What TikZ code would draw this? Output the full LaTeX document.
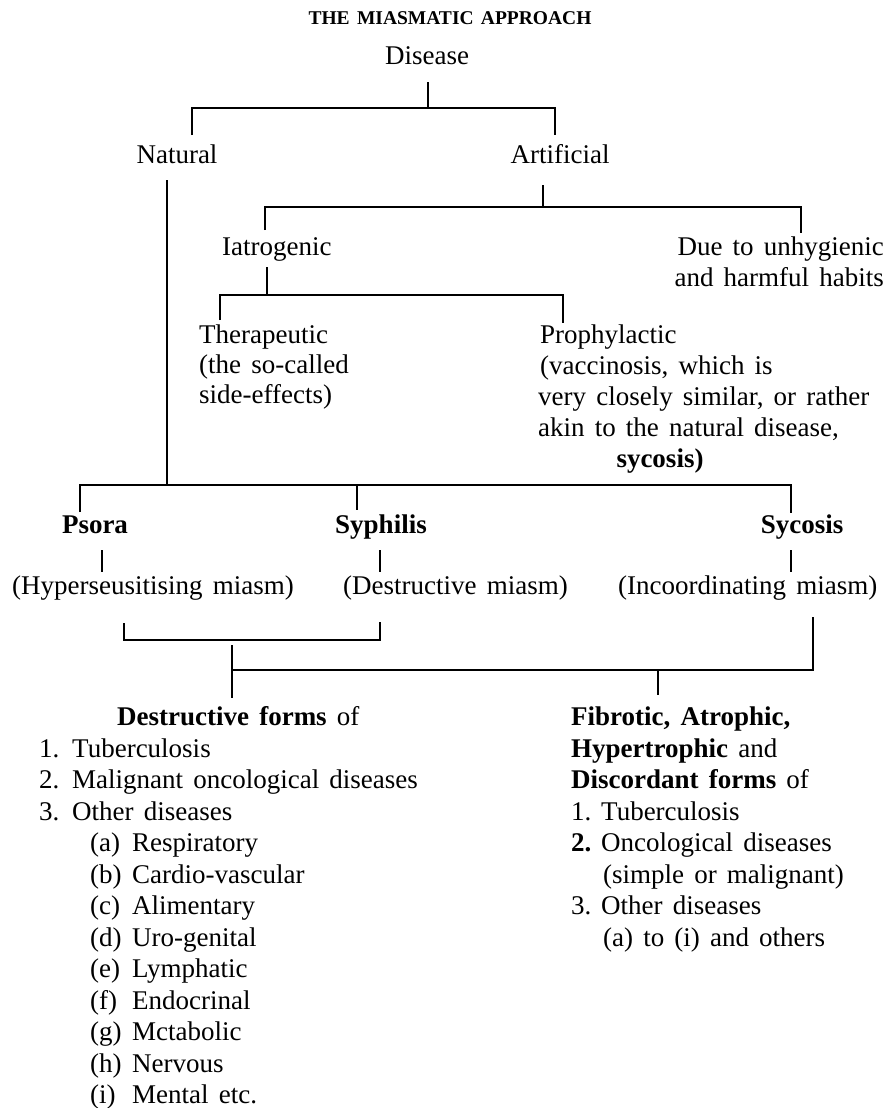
\documentclass[tikz,border=0pt]{standalone}
\usepackage{fontspec}
\setmainfont{Liberation Serif}[WordSpace=1.5]
\begin{document}
\begin{tikzpicture}[x=1pt,y=-1pt]
\tikzset{
  txt/.style={inner sep=0pt, font=\fontsize{27}{31.5}\selectfont, anchor=base west},
  txtc/.style={txt, anchor=base},
  txte/.style={txt, anchor=base east},
  ttl/.style={inner sep=0pt, font=\fontsize{19.5}{20}\selectfont\bfseries, anchor=base},
  ln/.style={line width=1.5pt, line cap=butt, line join=miter}
}
\fill[white] (0,0) rectangle (886,1108);
\useasboundingbox (0,0) rectangle (886,1108);

% ---- texts ----
\node[ttl] (title) at (450,25) {THE MIASMATIC APPROACH};
\node[txtc] (disease) at (427,65) {Disease};
\node[txtc] (natural) at (177,163) {Natural};
\node[txtc] (artificial) at (560,163) {Artificial};
\node[txt] (iatro) at (222,255) {Iatrogenic};
\node[txte] (due1) at (884,255) {Due to unhygienic};
\node[txte] (due2) at (884,286) {and harmful habits};
\node[txt] (ther1) at (199,343) {Therapeutic};
\node[txt] (ther2) at (199,373) {(the so-called};
\node[txt] (ther3) at (199,403) {side-effects)};
\node[txt] (pro1) at (540,343) {Prophylactic};
\node[txt] (pro2) at (540,374) {(vaccinosis, which is};
\node[txt] (pro3) at (538,405) {very closely similar, or rather};
\node[txt] (pro4) at (538,436) {akin to the natural disease,};
\node[txtc] (pro5) at (660,467) {\bfseries sycosis)};
\node[txtc] (psora) at (95,533) {\bfseries Psora};
\node[txtc] (syph) at (381,533) {\bfseries Syphilis};
\node[txtc] (sycos) at (802,533) {\bfseries Sycosis};
\node[txt] (hyper) at (12,594) {(Hyperseusitising miasm)};
\node[txt] (destm) at (343,594) {(Destructive miasm)};
\node[txt] (incoor) at (618,594) {(Incoordinating miasm)};
% left column
\node[txt] (dest) at (117,725) {\textbf{Destructive forms} of};
\node[txt] (l1) at (39,757) {\makebox[33pt][l]{1.}Tuberculosis};
\node[txt] (l2) at (39,788) {\makebox[33pt][l]{2.}Malignant oncological diseases};
\node[txt] (l3) at (39,820) {\makebox[33pt][l]{3.}Other diseases};
\node[txt] (la) at (90,851) {\makebox[42pt][l]{(a)}Respiratory};
\node[txt] (lb) at (90,883) {\makebox[42pt][l]{(b)}Cardio-vascular};
\node[txt] (lc) at (90,914) {\makebox[42pt][l]{(c)}Alimentary};
\node[txt] (ld) at (90,946) {\makebox[42pt][l]{(d)}Uro-genital};
\node[txt] (le) at (90,977) {\makebox[42pt][l]{(e)}Lymphatic};
\node[txt] (lf) at (90,1009) {\makebox[42pt][l]{(f)}Endocrinal};
\node[txt] (lg) at (90,1040) {\makebox[42pt][l]{(g)}Mctabolic};
\node[txt] (lh) at (90,1072) {\makebox[42pt][l]{(h)}Nervous};
\node[txt] (li) at (90,1103) {\makebox[42pt][l]{(i)}Mental etc.};
% right column
\node[txt] (fib) at (571,725) {\bfseries Fibrotic, Atrophic,};
\node[txt] (hyp) at (571,757) {\textbf{Hypertrophic} and};
\node[txt] (dis) at (571,788) {\textbf{Discordant forms} of};
\node[txt] (r1) at (571,820) {\makebox[30pt][l]{1.}Tuberculosis};
\node[txt] (r2) at (571,851) {\makebox[30pt][l]{\bfseries 2.}Oncological diseases};
\node[txt] (r2b) at (603,883) {(simple or malignant)};
\node[txt] (r3) at (571,914) {\makebox[30pt][l]{3.}Other diseases};
\node[txt] (r3b) at (603,946) {(a) to (i) and others};

% ---- junction coordinates ----
\coordinate (d0) at (428,82);  \coordinate (d1) at (428,108);
\coordinate (n1) at (192,108); \coordinate (n0) at (192,135);
\coordinate (a1) at (555,108); \coordinate (a0) at (555,135);
\coordinate (nl0) at (167,180); \coordinate (nl1) at (167,485);
\coordinate (as0) at (543,185); \coordinate (as1) at (543,207);
\coordinate (i1) at (265,207); \coordinate (i0) at (265,230);
\coordinate (u1) at (801,207); \coordinate (u0) at (801,233);
\coordinate (is0) at (267,267); \coordinate (is1) at (267,295);
\coordinate (t1) at (220,295); \coordinate (t0) at (220,320);
\coordinate (p1) at (563,295); \coordinate (p0) at (563,323);
\coordinate (ps1) at (80,485); \coordinate (ps0) at (80,512);
\coordinate (sp1) at (357,485); \coordinate (sp0) at (357,510);
\coordinate (sc1) at (791,485); \coordinate (sc0) at (791,513);
\coordinate (hs0) at (102,550); \coordinate (hs1) at (102,572);
\coordinate (ds0) at (380,550); \coordinate (ds1) at (380,572);
\coordinate (cs0) at (791,550); \coordinate (cs1) at (791,572);
\coordinate (g1) at (124,623); \coordinate (g2) at (124,640);
\coordinate (g3) at (380,640); \coordinate (g4) at (380,622);
\coordinate (m0) at (232,645); \coordinate (m1) at (232,670); \coordinate (m2) at (232,698);
\coordinate (k0) at (813,617); \coordinate (k1) at (813,670);
\coordinate (f1) at (658,670); \coordinate (f0) at (658,695);

% ---- connectors ----
\draw[ln] (d0) -- (d1);
\draw[ln] (n0) -- (n1) -- (a1) -- (a0);
\draw[ln] (nl0) -- (nl1);
\draw[ln] (as0) -- (as1);
\draw[ln] (i0) -- (i1) -- (u1) -- (u0);
\draw[ln] (is0) -- (is1);
\draw[ln] (t0) -- (t1) -- (p1) -- (p0);
\draw[ln] (ps0) -- (ps1) -- (sc1) -- (sc0);
\draw[ln] (sp1) -- (sp0);
\draw[ln] (hs0) -- (hs1);
\draw[ln] (ds0) -- (ds1);
\draw[ln] (cs0) -- (cs1);
\draw[ln] (g1) -- (g2) -- (g3) -- (g4);
\draw[ln] (m0) -- (m2);
\draw[ln] (k0) -- (k1) -- (m1);
\draw[ln] (f1) -- (f0);
\end{tikzpicture}
\end{document}
